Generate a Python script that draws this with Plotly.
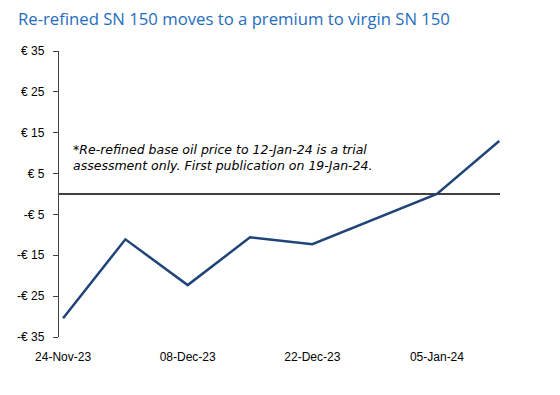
import plotly.graph_objects as go

dates = ["2023-11-24", "2023-12-01", "2023-12-08", "2023-12-15", "2023-12-22", "2024-01-05", "2024-01-12"]
spread = [-30.4, -11.1, -22.3, -10.6, -12.3, 0.0, 13.0]
tick_dates = ["2023-11-24", "2023-12-08", "2023-12-22", "2024-01-05"]
tick_labels = ["24-Nov-23", "08-Dec-23", "22-Dec-23", "05-Jan-24"]
y_ticks = [-35, -25, -15, -5, 5, 15, 25, 35]
y_labels = [("-€ %d" % -v) if v < 0 else ("€ %d" % v) for v in y_ticks]

title = "Re-refined SN 150 moves to a premium to virgin SN 150"
note = "*Re-refined base oil price to 12-Jan-24 is a trial<br>assessment only. First publication on 19-Jan-24."

tick_font = dict(family="Liberation Sans, sans-serif", size=12, color="black")

fig = go.Figure()
fig.add_trace(go.Scatter(x=dates, y=spread, mode="lines",
                         line=dict(color="#1f4477", width=2.5), showlegend=False,
                         hoverinfo="skip"))

fig.update_layout(
    width=560, height=395,
    margin=dict(l=51, r=68, t=43, b=66),
    paper_bgcolor="white", plot_bgcolor="white",
    font=dict(family="Open Sans, sans-serif", size=12, color="black"),
    title=dict(text=title, x=10 / 560, xref="container", xanchor="left", y=1 - 11 / 395, yanchor="middle",
               font=dict(family="Open Sans, sans-serif", size=16.7, color="#1f6dbe"),
               pad=dict(l=0, r=0, t=0, b=0)),
    xaxis=dict(type="date", range=["2023-11-23 13:00", "2024-01-12 02:00"],
               tickvals=tick_dates, ticktext=tick_labels, automargin=False,
               showgrid=False, zeroline=False, showline=False,
               ticks="outside", ticklen=9, tickcolor="rgba(0,0,0,0)",
               tickfont=tick_font),
    yaxis=dict(range=[-35, 35], tickvals=y_ticks, ticktext=y_labels, automargin=False,
               showgrid=False, showline=True, linecolor="#404040", linewidth=1.3,
               ticks="outside", ticklen=5, tickcolor="#404040", ticklabelstandoff=6,
               zeroline=True, zerolinecolor="#404040", zerolinewidth=1.5,
               tickfont=tick_font),
    annotations=[dict(text=note, xref="paper", yref="paper", x=0.027, y=0.69,
                      xanchor="left", yanchor="top", align="left", showarrow=False,
                      font=dict(family="DejaVu Sans, sans-serif", size=12.5, color="black", style="italic"))],
)

fig.write_html("out.html")
